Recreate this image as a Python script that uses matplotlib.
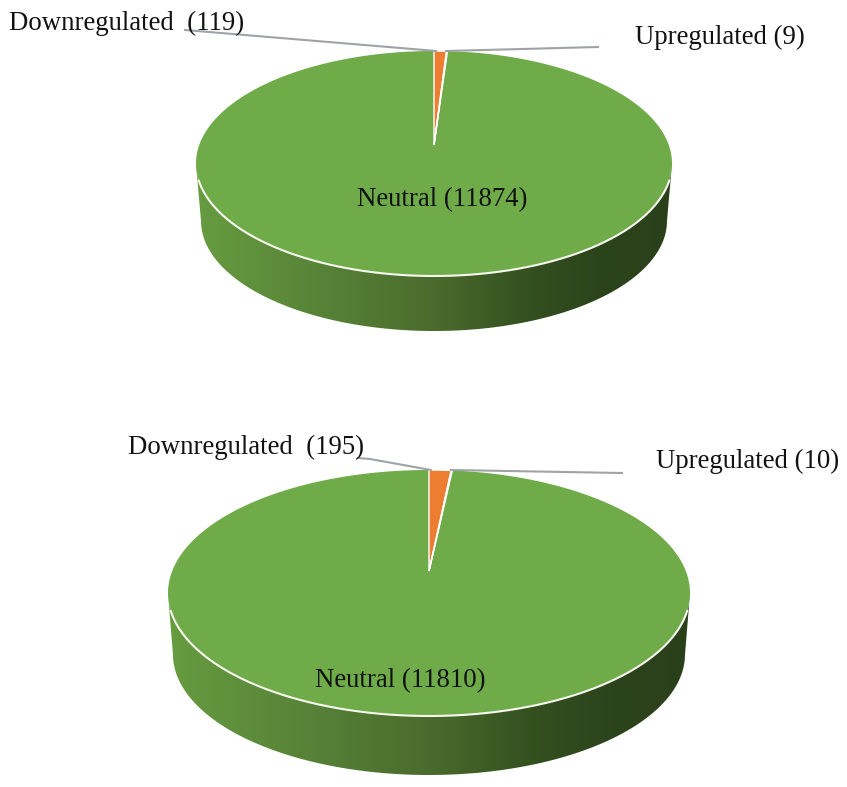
import matplotlib
matplotlib.use("Agg")
import matplotlib.pyplot as plt
import numpy as np
from matplotlib.colors import LinearSegmentedColormap
from matplotlib.patches import Polygon

plt.rcParams['font.family'] = ['Liberation Serif', 'DejaVu Serif']

# gene counts for the two pies
categories = ["Downregulated", "Upregulated", "Neutral"]
counts_top = [119, 9, 11874]
counts_bottom = [195, 10, 11810]
slice_colors = ["#ed7d31", "#ffffff", "#6fab48"]

wall_cmap = LinearSegmentedColormap.from_list(
    "wall", [(0, "#669c40"), (0.3, "#557f36"), (0.5, "#4a6b2d"),
             (0.7, "#33501f"), (0.85, "#2c441c"), (1, "#2a401b")])


def project(theta, cx, tip_y, a, b, k, r=1.0):
    # perspective view of the disc, theta clockwise from 12 o'clock
    u = r * np.sin(theta)
    v = r * np.cos(theta)
    return cx + a * u / (1 + k * v), tip_y - b * v / (1 + k * v)


def draw_pie(ax, counts, cx, top, tip_y, bottom, half_w, wall_bottom, wall_half_w, edge_y):
    ratio = (tip_y - top) / (bottom - tip_y)
    k = (1 - ratio) / (1 + ratio)
    b = (tip_y - top) * (1 + k)
    a = half_w * np.sqrt(1 - k ** 2)
    mid_y = (top + bottom) / 2

    # side wall: gradient clipped to the band between the two rims
    t = np.linspace(0, 2 * np.pi, 721)
    x, y = project(t, cx, tip_y, a, b, k)
    s = wall_half_w / half_w
    depth = wall_bottom - (mid_y + s * (bottom - mid_y))
    lx = cx + s * (x - cx)
    ly = mid_y + s * (y - mid_y) + depth
    front = (t > np.arccos(-k)) & (t < 2 * np.pi - np.arccos(-k))
    wall_xy = np.vstack([np.column_stack([x[front], y[front]]),
                         np.column_stack([lx[front], ly[front]])[::-1]])
    wall = Polygon(wall_xy, closed=True, facecolor="none", edgecolor="none")
    ax.add_patch(wall)
    grad = np.linspace(0, 1, 256).reshape(1, -1)
    img = ax.imshow(grad, cmap=wall_cmap, aspect="auto",
                    extent=[cx - half_w, cx + half_w, wall_bottom + 2, top], zorder=1)
    img.set_clip_path(wall)

    # slices, clockwise from the top
    edges = np.cumsum([0] + list(counts)) / sum(counts) * 2 * np.pi
    for i in [2, 0, 1]:
        th = np.linspace(edges[i], edges[i + 1], 500 if i == 2 else 12)
        px, py = project(th, cx, tip_y, a, b, k)
        xy = np.vstack([[cx, tip_y], np.column_stack([px, py])])
        if i == 2:
            ax.add_patch(Polygon(xy, closed=True, facecolor=slice_colors[i],
                                 edgecolor="none", zorder=2))
        else:
            ax.add_patch(Polygon(xy, closed=True, facecolor=slice_colors[i],
                                 edgecolor="white", linewidth=1.0, zorder=3,
                                 joinstyle="miter"))

    # white rim along the front of the disc
    rim = y > edge_y
    ax.plot(x[rim], y[rim], color="#f6f8f0", lw=1.5, zorder=3)


fig = plt.figure(figsize=(8.47, 7.87), dpi=100)
ax = fig.add_axes([0, 0, 1, 1])

draw_pie(ax, counts_top, 434, 51, 145, 276, 238, 331, 233, 180)
draw_pie(ax, counts_bottom, 429, 470, 571, 716, 261, 775, 256, 610)

ax.set_xlim(0, 847)
ax.set_ylim(787, 0)
ax.axis("off")

leader = "#a0a3a6"
ax.plot([185, 436], [30, 51], color=leader, lw=1.5, zorder=4)
ax.plot([446, 598], [51, 47], color=leader, lw=1.5, zorder=4)
ax.plot([358, 370, 431], [458, 459, 470], color=leader, lw=1.5, zorder=4)
ax.plot([451, 622], [470, 473], color=leader, lw=1.5, zorder=4)

fs = 19.3
txt = dict(fontsize=fs, color="#111111", va="center", zorder=5)
ax.text(9, 23, f"{categories[0]}  ({counts_top[0]})", ha="left", **txt)
ax.text(635, 37, f"{categories[1]} ({counts_top[1]})", ha="left", **txt)
ax.text(442, 200, f"{categories[2]} ({counts_top[2]})", ha="center", **txt)
ax.text(128, 447, f"{categories[0]}  ({counts_bottom[0]})", ha="left", **txt)
ax.text(656, 461, f"{categories[1]} ({counts_bottom[1]})", ha="left", **txt)
ax.text(400, 681, f"{categories[2]} ({counts_bottom[2]})", ha="center", **txt)

fig.savefig("out.png", dpi=100, facecolor="white")
